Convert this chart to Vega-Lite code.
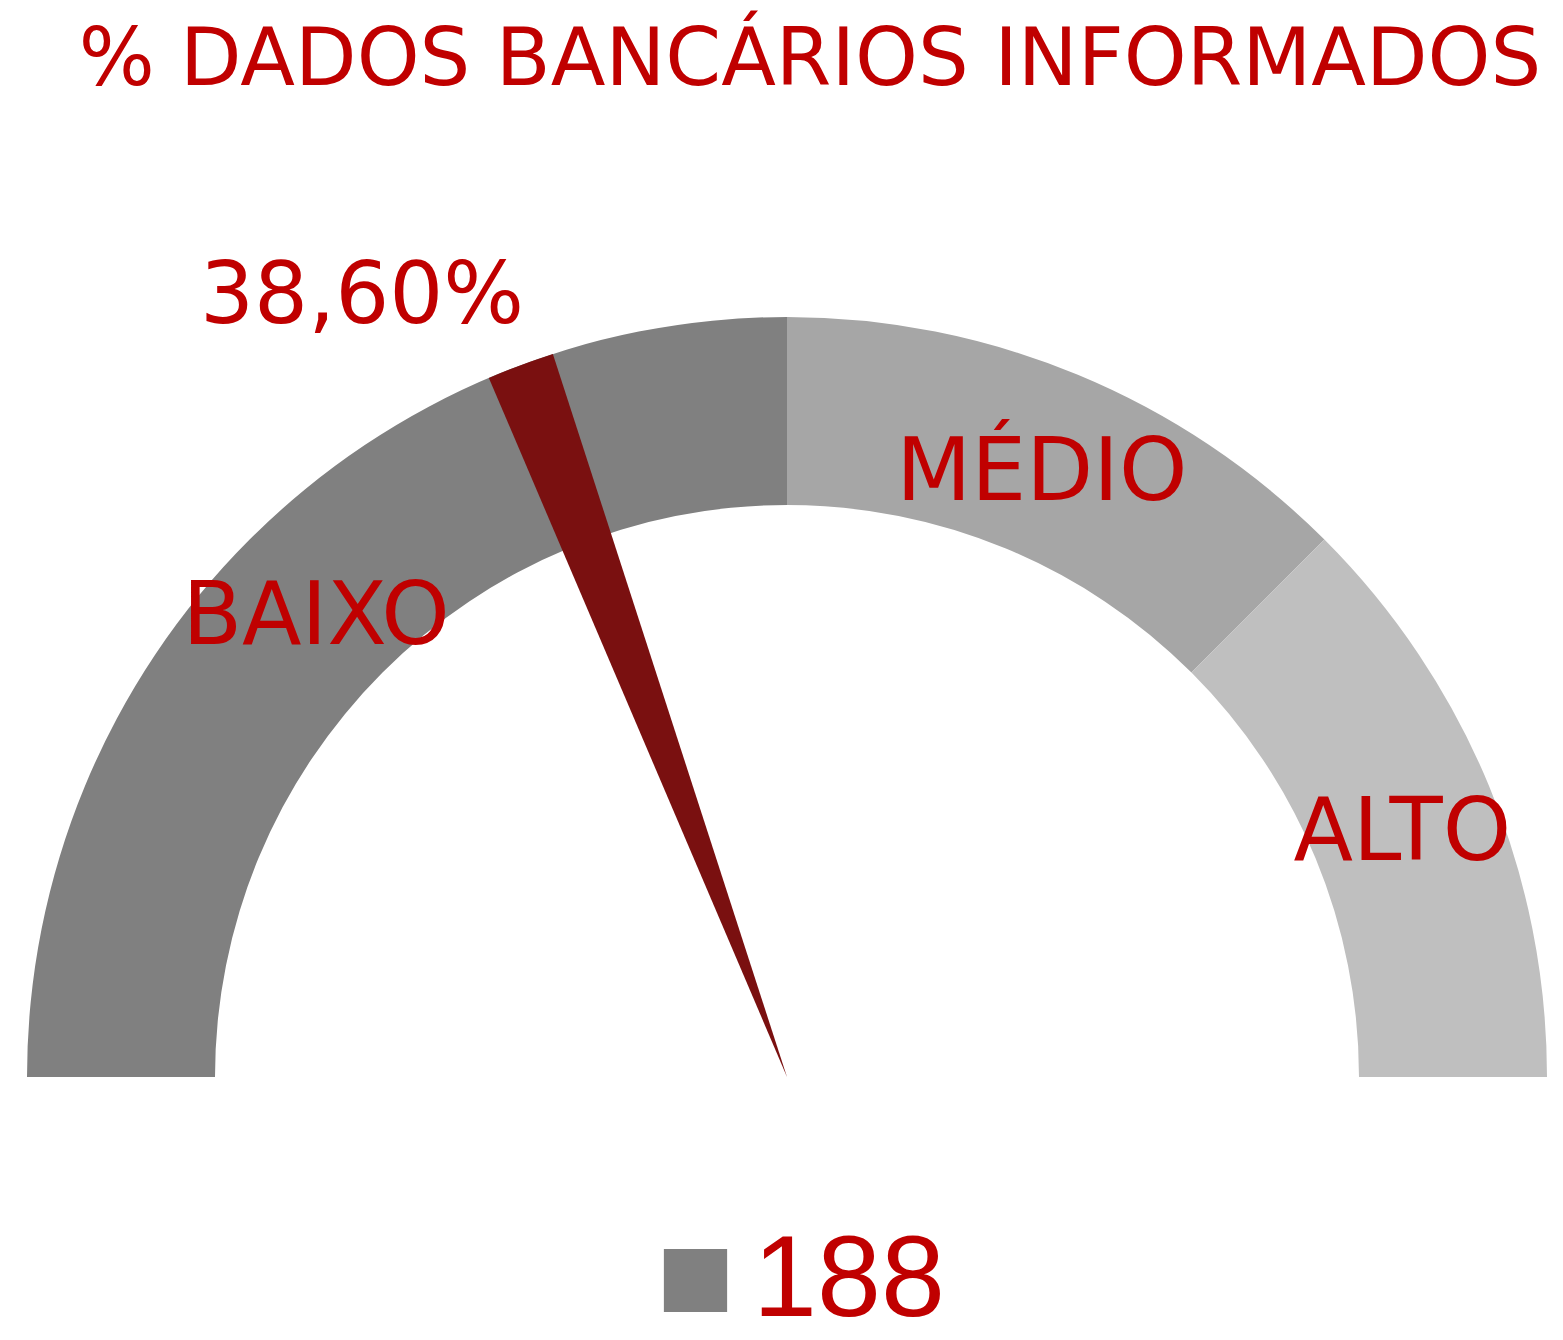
{
  "$schema": "https://vega.github.io/schema/vega-lite/v6.json",
  "width": 1554,
  "height": 927,
  "autosize": {"type": "none"},
  "padding": {"left": 10, "top": 150, "right": 0, "bottom": 263},
  "background": "white",
  "config": {"view": {"stroke": null}, "font": "DejaVu Sans"},
  "title": {
    "text": "% DADOS BANCÁRIOS INFORMADOS",
    "color": "#c00000",
    "font": "DejaVu Sans",
    "fontSize": 80,
    "fontWeight": "normal",
    "anchor": "middle",
    "offset": 48,
    "dx": 23
  },
  "layer": [
    {
      "data": {
        "values": [
          {"faixa": "BAIXO", "ordem": 1, "tamanho": 50},
          {"faixa": "MÉDIO", "ordem": 2, "tamanho": 25},
          {"faixa": "ALTO", "ordem": 3, "tamanho": 25}
        ]
      },
      "encoding": {
        "x": {"datum": 0, "type": "quantitative", "scale": {"domain": [-1, 1]}, "axis": null},
        "y": {"datum": 0, "type": "quantitative", "scale": {"domain": [0, 1]}, "axis": null},
        "theta": {
          "field": "tamanho",
          "type": "quantitative",
          "stack": true,
          "scale": {"domain": [0, 100], "range": [-1.5708, 1.5708]}
        },
        "order": {"field": "ordem", "type": "quantitative"}
      },
      "layer": [
        {
          "mark": {"type": "arc", "outerRadius": 760, "innerRadius": 572},
          "encoding": {
            "color": {
              "field": "faixa",
              "type": "nominal",
              "scale": {"domain": ["BAIXO", "MÉDIO", "ALTO"], "range": ["#808080", "#a6a6a6", "#bfbfbf"]},
              "legend": null
            }
          }
        },
        {
          "mark": {"type": "text", "radius": 666, "dy": 12, "fontSize": 87, "color": "#c00000", "align": "center", "baseline": "middle", "font": "DejaVu Sans"},
          "encoding": {"text": {"field": "faixa"}}
        }
      ]
    },
    {
      "data": {"values": [{"indicador": "38,60%", "valor": 38.6}]},
      "encoding": {
        "x": {"datum": 0, "type": "quantitative", "scale": {"domain": [-1, 1]}, "axis": null},
        "y": {"datum": 0, "type": "quantitative", "scale": {"domain": [0, 1]}, "axis": null},
        "theta": {
          "field": "valor",
          "type": "quantitative",
          "stack": null,
          "scale": {"domain": [0, 100], "range": [-1.5708, 1.5708]}
        }
      },
      "layer": [
        {
          "mark": {"type": "arc", "outerRadius": 760, "innerRadius": 0, "thetaOffset": -0.045, "theta2Offset": 0.045, "color": "#7a1010"},
          "encoding": {"theta2": {"field": "valor"}}
        },
        {
          "mark": {"type": "text", "radius": 830, "dx": -134, "dy": -3, "fontSize": 85, "color": "#c00000", "align": "center", "baseline": "middle", "font": "DejaVu Sans"},
          "encoding": {"text": {"field": "indicador"}}
        }
      ]
    },
    {
      "data": {"values": [{"total": "188"}]},
      "mark": {"type": "point", "shape": "square", "filled": true, "size": 0},
      "encoding": {
        "x": {"datum": 0, "type": "quantitative", "scale": {"domain": [-1, 1]}, "axis": null},
        "y": {"datum": 0, "type": "quantitative", "scale": {"domain": [0, 1]}, "axis": null},
        "color": {
          "field": "total",
          "type": "nominal",
          "scale": {"range": ["#808080"]},
          "legend": {
            "title": null,
            "orient": "none",
            "legendX": 628,
            "legendY": 1073,
            "padding": 0,
            "symbolType": "square",
            "symbolSize": 4000,
            "symbolOpacity": 1,
            "symbolStrokeWidth": 0,
            "symbolFillColor": "#808080",
            "labelFont": "Liberation Sans",
            "labelFontSize": 115,
            "labelColor": "#c00000",
            "labelOffset": 0,
            "labelLimit": 0
          }
        }
      }
    }
  ],
  "resolve": {"scale": {"color": "independent", "theta": "shared"}}
}
